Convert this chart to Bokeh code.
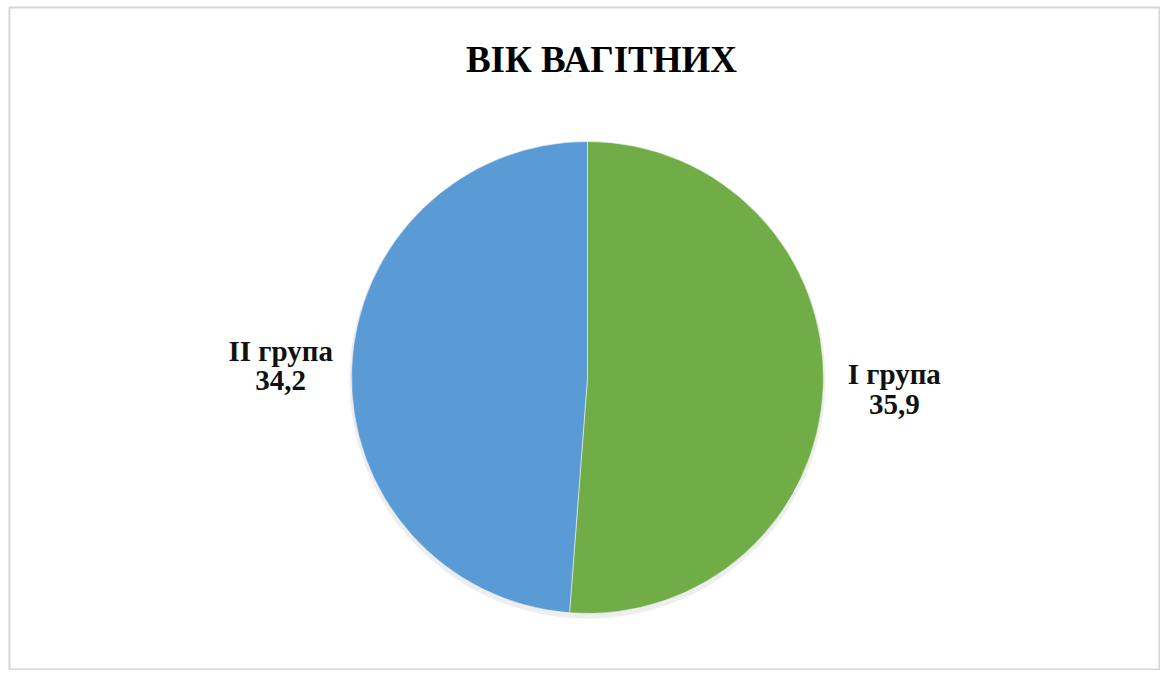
import math
from bokeh.plotting import figure
from bokeh.models import Range1d, ColumnDataSource
from bokeh.core.properties import value
from bokeh.embed import file_html
from bokeh.resources import INLINE

title_text = "ВІК ВАГІТНИХ"
groups = ["I група", "II група"]
values = [35.9, 34.2]
value_labels = ["35,9", "34,2"]
colors = ["#70AD47", "#5B9BD5"]

SERIF = value("'Liberation Serif', 'Times New Roman', serif")

W, H = 1160, 670
cx, cy, r = 587, 301, 236
label_r = 307

total = sum(values)
starts, ends, mids = [], [], []
a = math.pi / 2
for v in values:
    sweep = 2 * math.pi * v / total
    starts.append(a)
    ends.append(a - sweep)
    mids.append(a - sweep / 2)
    a -= sweep

lx = [cx + label_r * math.cos(m) for m in mids]
ly = [cy + label_r * math.sin(m) for m in mids]

src = ColumnDataSource(dict(
    x=[cx] * len(values), y=[cy] * len(values),
    start=starts, end=ends, color=colors,
    lx=lx, ly_name=[y + 15 for y in ly], ly_val=[y - 15 for y in ly],
    name=groups, val=value_labels,
))

p = figure(width=W, height=H, output_backend="svg", toolbar_location=None,
           x_range=Range1d(9, 1160), y_range=Range1d(8, 671),
           min_border_left=9, min_border_top=7, min_border_right=0, min_border_bottom=0)
p.axis.visible = False
p.grid.visible = False
p.outline_line_color = "#d6d6d6"
p.outline_line_width = 2
p.background_fill_color = "white"
p.border_fill_color = "white"

# soft shadow
p.circle(x=[cx], y=[cy - 3], radius=r + 2, fill_color="#bdbdbd", fill_alpha=0.25, line_color=None)

p.wedge(x="x", y="y", radius=r, start_angle="start", end_angle="end",
        direction="clock", fill_color="color", line_color="white", line_width=0.5,
        source=src)

p.text(x="lx", y="ly_name", text="name", source=src, text_font=SERIF,
       text_font_style="bold", text_font_size="29px", text_align="center",
       text_baseline="middle", text_color="#111111")
p.text(x="lx", y="ly_val", text="val", source=src, text_font=SERIF,
       text_font_style="bold", text_font_size="29px", text_align="center",
       text_baseline="middle", text_color="#111111")

p.text(x=[601], y=[619], text=[title_text], text_font=SERIF,
       text_font_style="bold", text_font_size="37px", text_align="center",
       text_baseline="middle", text_color="#000000")

open("out.html", "w").write(file_html(p, INLINE))
